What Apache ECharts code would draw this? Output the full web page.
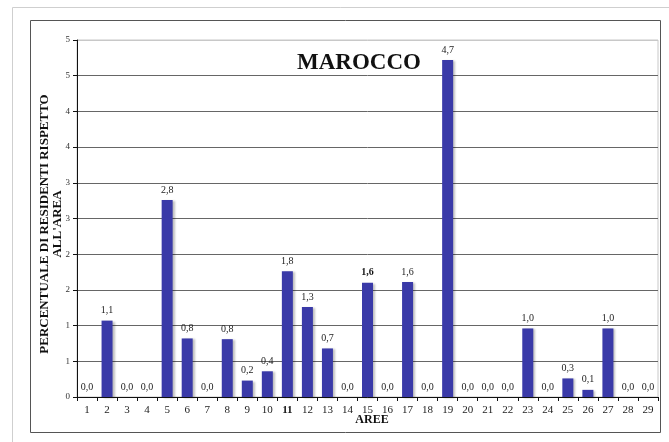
<!DOCTYPE html>
<html>
<head>
<meta charset="utf-8">
<script src="https://cdn.jsdelivr.net/npm/echarts@6/dist/echarts.min.js"></script>
<style>
html,body{margin:0;padding:0;background:#fff;}
#c{width:669px;height:442px;}
</style>
</head>
<body>
<div id="c"></div>
<script>
const categories = ['1','2','3','4','5','6','7','8','9','10','11','12','13','14','15','16','17','18','19','20','21','22','23','24','25','26','27','28','29'];
const values = [0, 1.07, 0, 0, 2.76, 0.82, 0, 0.81, 0.23, 0.36, 1.76, 1.26, 0.68, 0, 1.6, 0, 1.61, 0, 4.72, 0, 0, 0, 0.96, 0, 0.26, 0.1, 0.96, 0, 0];
const yTickLabels = ['0','1','1','2','2','3','3','4','4','5','5'];
const titleText = 'MAROCCO';
const yName = "PERCENTUALE DI RESIDENTI RISPETTO\nALL'AREA";
const xName = 'AREE';
const boldCategory = '11';
const boldLabelCategory = '15';

const serif = '"Liberation Serif", "Times New Roman", serif';
const chart = echarts.init(document.getElementById('c'), null, {renderer: 'canvas'});
const splitColors = ['#666','#666','#666','#666','#666','#666','#666','#666','#666','#666','#c8c8c8'];
const seriesData = values.map((v, i) => categories[i] === boldLabelCategory
  ? {value: v, label: {fontWeight: 'bold', color: '#111'}}
  : v);
chart.setOption({
  animation: false,
  backgroundColor: '#fff',
  title: {
    text: titleText,
    left: 354, top: 47, textAlign: 'center',
    textStyle: {fontFamily: serif, fontWeight: 'bold', fontSize: 23, color: '#111'}
  },
  graphic: [
    {type: 'polyline', shape: {points: [[12.5, 442], [12.5, 7.5], [669, 7.5]]}, style: {stroke: '#cfcfcf', lineWidth: 1, fill: null}, silent: true},
    {type: 'rect', shape: {x: 30.5, y: 20.5, width: 630, height: 412}, style: {stroke: '#555', lineWidth: 1, fill: null}, silent: true},
    {type: 'text', x: 51, y: 224, rotation: Math.PI / 2, silent: true,
     style: {text: yName, align: 'center', verticalAlign: 'middle', fontFamily: serif, fontWeight: 'bold', fontSize: 13, lineHeight: 13, fill: '#111'}},
    {type: 'text', x: 372, y: 420, silent: true,
     style: {text: xName, align: 'center', verticalAlign: 'middle', fontFamily: serif, fontWeight: 'bold', fontSize: 12, fill: '#111'}}
  ],
  grid: {left: 77, right: 11, top: 40, bottom: 45, show: true, borderColor: '#c8c8c8', borderWidth: 1},
  xAxis: {
    type: 'category',
    data: categories,
    axisLine: {lineStyle: {color: '#111', width: 1}},
    axisTick: {show: true, length: 4, lineStyle: {color: '#111'}},
    axisLabel: {
      fontFamily: serif, fontSize: 11, color: '#222', margin: 8, interval: 0,
      formatter: (v) => v === boldCategory ? '{b|' + v + '}' : v,
      rich: {b: {fontFamily: serif, fontSize: 11, fontWeight: 'bold', color: '#111'}}
    },
    splitLine: {show: false}
  },
  yAxis: {
    type: 'value',
    min: 0, max: 5, interval: 0.5,
    axisLine: {show: true, lineStyle: {color: '#111', width: 1}},
    axisTick: {show: true, length: 4, lineStyle: {color: '#111'}},
    axisLabel: {
      fontFamily: serif, fontSize: 9, color: '#333', margin: 7,
      formatter: (v) => yTickLabels[Math.round(v / 0.5)]
    },
    splitLine: {show: true, lineStyle: {color: splitColors, width: 1}}
  },
  series: [{
    type: 'bar',
    data: seriesData,
    barWidth: 11,
    itemStyle: {color: '#3a3aa8', shadowColor: 'rgba(0,0,0,0.25)', shadowOffsetX: 2, shadowOffsetY: 1, shadowBlur: 2},
    label: {
      show: true, position: 'top', distance: 5,
      fontFamily: serif, fontSize: 10, color: '#222',
      formatter: (p) => Number(p.value).toFixed(1).replace('.', ',')
    }
  }]
});
</script>
</body>
</html>
